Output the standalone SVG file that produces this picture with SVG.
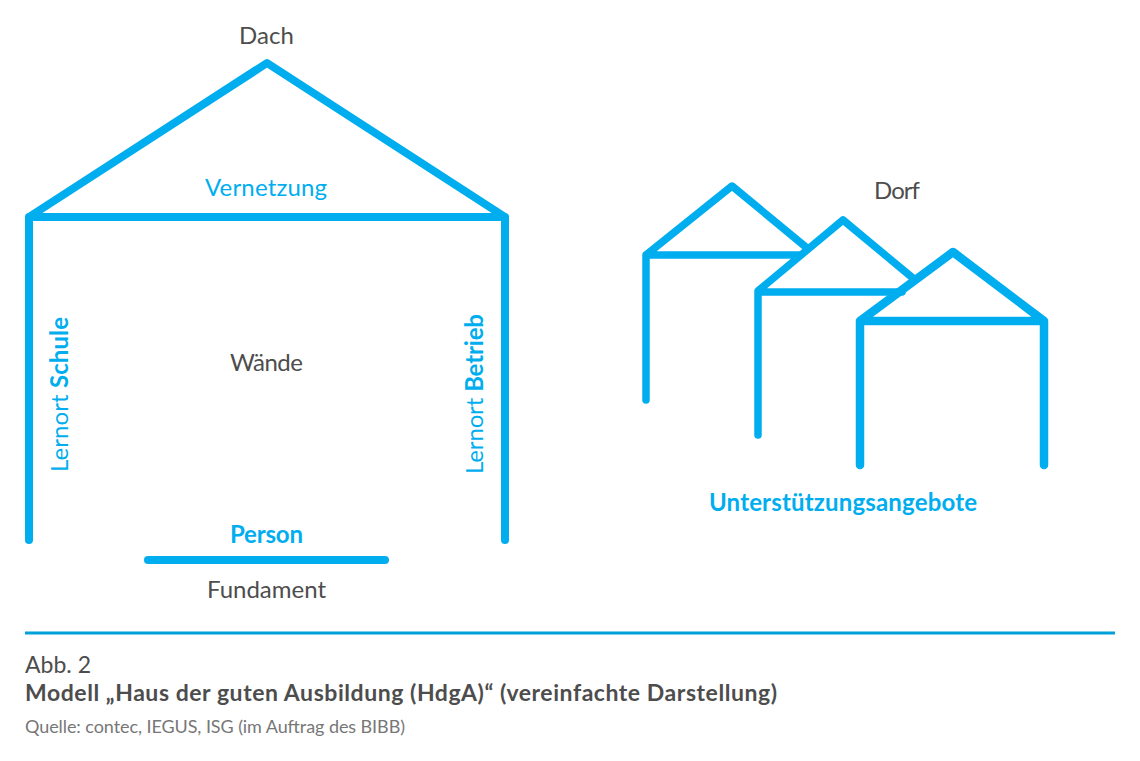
<svg xmlns="http://www.w3.org/2000/svg" width="1140" height="761" viewBox="0 0 1140 761">
<style>
text{font-family:"Lato","Open Sans","Liberation Sans",sans-serif;}
.l{fill:none;stroke:#00aeef;stroke-linecap:round;stroke-linejoin:round}
.b{stroke-width:8}
.s{stroke-width:7.5}
.t{stroke-width:8.5}
.g{fill:#4d4d4d;font-size:24px;text-anchor:middle}
.c{fill:#00aeef;font-size:24px;text-anchor:middle}
.h{font-weight:700}
</style>
<rect width="1140" height="761" fill="#fff"/>
<g id="connectors">
<path class="l b" d="M29 540V217L267 63L505 217V540M29 217H505"/>
<path class="l b" d="M148 560H385"/>
<path class="l s" d="M646 400V255L732 186L807 248M646 255H800"/>
<path class="l s" d="M758 435V291L843 220L914 279M758 292H902"/>
<path class="l t" d="M860 465V321L953 252L1044 321V465M860 321H1044"/>
<path d="M25 633H1115" stroke="#00a0d8" stroke-width="3.2" fill="none"/>
</g>
<g id="dach"><text class="g" x="266.500" y="44" textLength="55">Dach</text></g>
<g id="vernetzung"><text class="c" x="266" y="196" textLength="122">Vernetzung</text></g>
<g id="schule"><text class="c" transform="translate(68 394.500) rotate(-90)" textLength="155">Lernort <tspan class="h">Schule</tspan></text></g>
<g id="betrieb"><text class="c" transform="translate(483 394) rotate(-90)" textLength="160">Lernort <tspan class="h">Betrieb</tspan></text></g>
<g id="waende"><text class="g" x="266.500" y="371" textLength="73">Wände</text></g>
<g id="person"><text class="c h" x="266.500" y="543" textLength="73">Person</text></g>
<g id="fundament"><text class="g" x="266.500" y="598" textLength="119">Fundament</text></g>
<g id="dorf"><text class="g" x="897" y="199" textLength="46">Dorf</text></g>
<g id="angebote"><text class="c h" x="843" y="511" textLength="268">Unterstützungsangebote</text></g>
<g id="caption">
<text x="25" y="673" fill="#4d4d4d" font-size="23" textLength="66">Abb. 2</text>
<text x="25" y="701" fill="#4d4d4d" font-size="23" font-weight="700" textLength="752">Modell „Haus der guten Ausbildung (HdgA)“ (vereinfachte Darstellung)</text>
<text x="25" y="733" fill="#777" font-size="18" textLength="380">Quelle: contec, IEGUS, ISG (im Auftrag des BIBB)</text>
</g>
</svg>
